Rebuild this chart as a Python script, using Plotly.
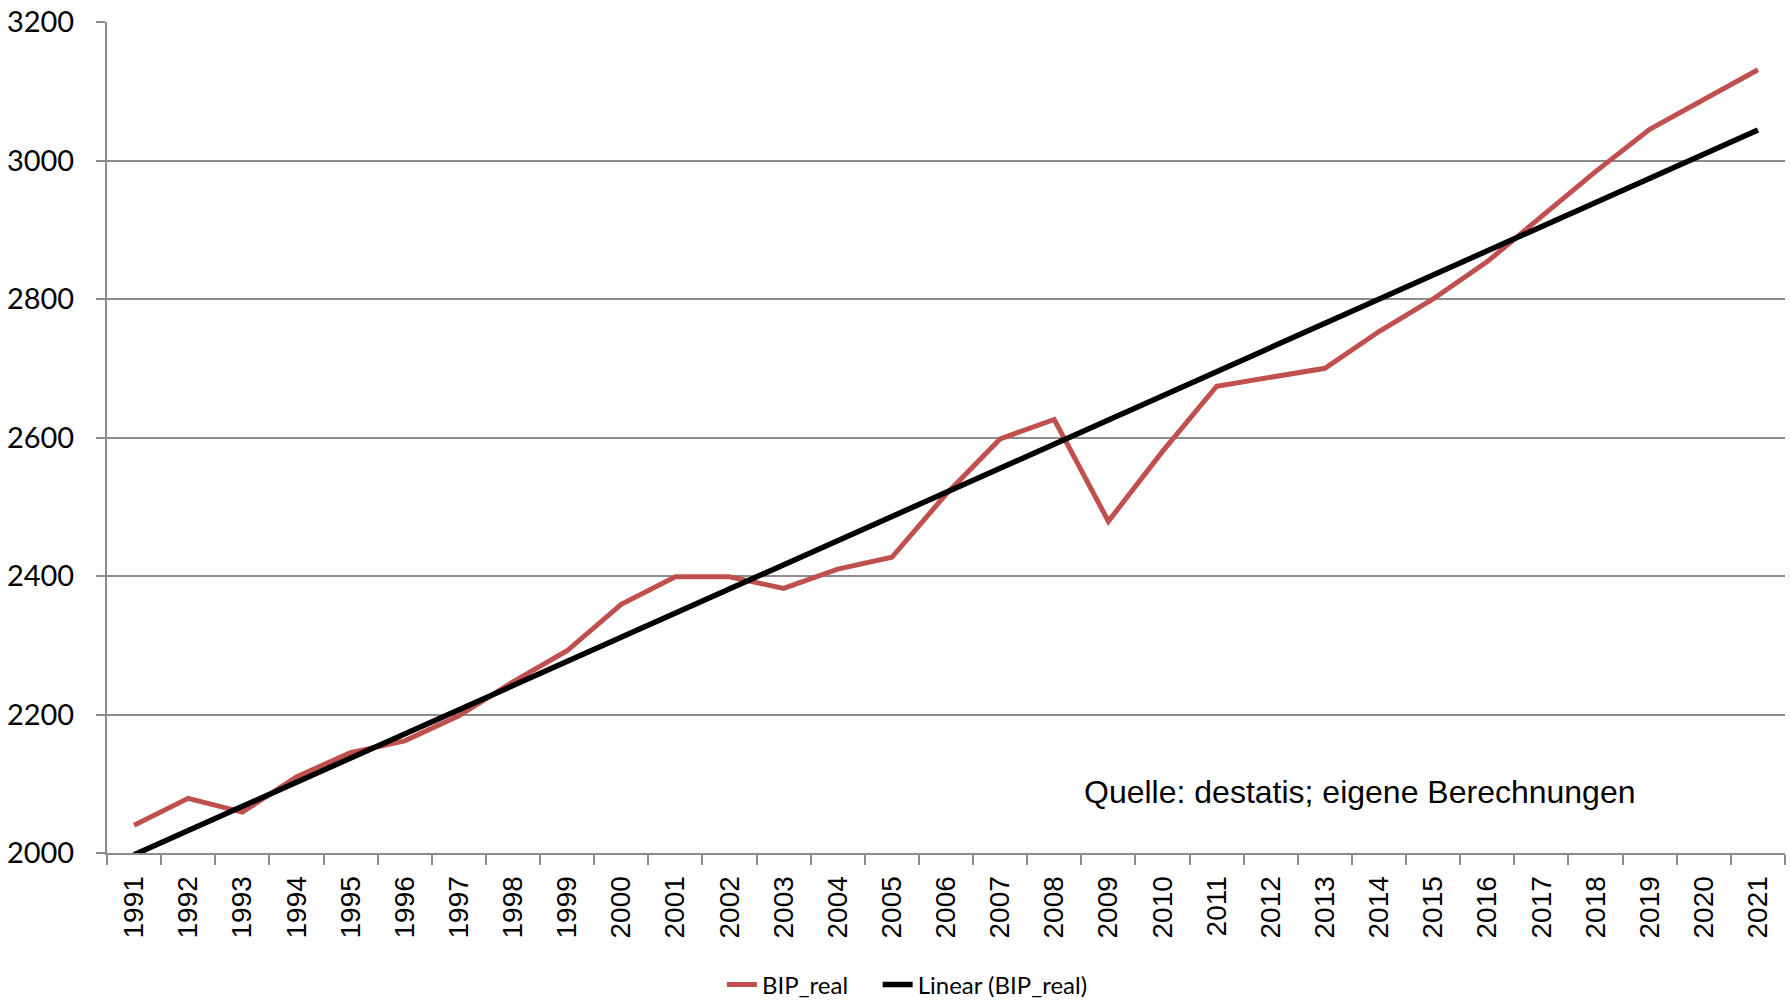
import numpy as np
import plotly.graph_objects as go

# Reales Bruttoinlandsprodukt Deutschland (Mrd. Euro), 1991-2021
years = [str(y) for y in range(1991, 2022)]
bip_real = [2040, 2079, 2059, 2110, 2145, 2162, 2198, 2247, 2292, 2359,
            2399, 2399, 2382, 2410, 2427, 2518, 2598, 2626, 2479, 2580,
            2674, 2687, 2700, 2753, 2800, 2854, 2918, 2984, 3045, 3088,
            3131]
y_ticks = [2000, 2200, 2400, 2600, 2800, 3000, 3200]
source_text = "Quelle: destatis; eigene Berechnungen"

# Linear trend (least squares over the year index)
idx = np.arange(len(bip_real))
slope, intercept = np.polyfit(idx, bip_real, 1)
trend = intercept + slope * idx

RED = "#C0504D"
GRID = "#8C8C8C"

fig = go.Figure()
fig.add_trace(go.Scatter(
    x=years, y=bip_real, mode="lines",
    name="BIP_real\u00a0\u00a0\u00a0\u00a0",
    line=dict(color=RED, width=5), cliponaxis=False,
))
fig.add_trace(go.Scatter(
    x=years, y=trend, mode="lines", name="Linear (BIP_real)",
    line=dict(color="black", width=5.5), cliponaxis=False,
))

fig.add_annotation(
    text=source_text, xref="paper", yref="paper",
    x=0.747, y=0.073, xanchor="center", yanchor="middle",
    showarrow=False,
    font=dict(family="Liberation Sans, Arial", size=32, color="black"),
)

fig.update_layout(
    width=1791, height=1000,
    margin=dict(l=107, r=6, t=22, b=147, autoexpand=False),
    paper_bgcolor="white", plot_bgcolor="white",
    showlegend=True,
    legend=dict(
        orientation="h", x=0.477, y=0.015,
        xref="paper", yref="container",
        xanchor="center", yanchor="middle",
        font=dict(family="Lato, Open Sans", size=24, color="black"),
        tracegroupgap=0,
    ),
)

fig.update_xaxes(
    type="category", range=[-0.5, len(years) - 0.5],
    tickson="boundaries", ticks="outside", ticklen=10, tickwidth=2,
    tickcolor=GRID, showline=True, linecolor=GRID, linewidth=2,
    showgrid=False, tickangle=-90, ticklabelstandoff=10,
    tickfont=dict(family="Liberation Sans, Arial", size=28, color="black"),
    fixedrange=True,
)
fig.update_yaxes(
    range=[2000, 3200], tickvals=y_ticks,
    ticks="outside", ticklen=9, tickwidth=2, tickcolor=GRID,
    showline=True, linecolor=GRID, linewidth=2,
    showgrid=True, gridcolor=GRID, gridwidth=1.5,
    zeroline=False, ticklabelstandoff=16,
    tickfont=dict(family="Lato, Open Sans", size=29, color="black"),
    fixedrange=True,
)

fig.write_html("out.html")
